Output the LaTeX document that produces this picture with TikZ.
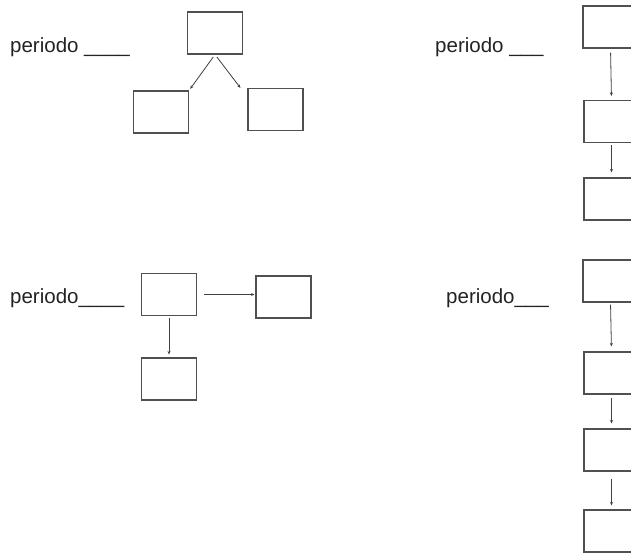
\documentclass[tikz,border=0pt]{standalone}
\usepackage{fontspec}
\setmainfont{Liberation Sans}
\usetikzlibrary{arrows.meta}
\definecolor{linegray}{RGB}{80,80,80}
\definecolor{textgray}{RGB}{35,35,35}

\begin{document}
\begin{tikzpicture}[x=1pt, y=-1pt,
        box/.style={draw=linegray, line width=1.1pt, minimum width=55pt, minimum height=42pt, inner sep=0pt},
        arr/.style={draw=linegray!80!black, line width=0.8pt, -{Stealth[length=3.5pt, width=3pt]}},
        lbl/.style={anchor=base west, inner sep=0pt, text=textgray, font=\fontsize{20.5}{20.5}\selectfont}]
        \useasboundingbox (0,0) rectangle (631,554);
        \clip (0,0) rectangle (631,554);
        % panel 1
        \node[lbl] (p1) at (10, 52) {periodo \_\_\_\_};
        \node[box] (a1) at (215, 33) {};
        \node[box] (b1) at (161, 112) {};
        \node[box] (c1) at (275.5, 109.5) {};
        \draw (a1.south) edge[arr, shorten <=3pt, shorten >=2pt] (b1.north east);
        \draw (a1.south) edge[arr, shorten <=3pt] ([xshift=-7pt]c1.north west);
        % panel 2
        \node[lbl] (p2) at (435, 52) {periodo \_\_\_};
        \node[box] (a2) at (610.5, 27) {};
        \node[box] (b2) at (611.5, 121.5) {};
        \node[box] (c2) at (611.5, 199) {};
        \draw (a2.south) edge[arr, shorten <=4pt, shorten >=4pt] (b2.north);
        \draw (b2.south) edge[arr, shorten <=2pt, shorten >=5pt] (c2.north);
        % panel 3
        \node[lbl] (p3) at (10, 303) {periodo\_\_\_\_};
        \node[box] (a3) at (169, 294.5) {};
        \node[box] (b3) at (283.5, 297) {};
        \node[box] (c3) at (169, 379) {};
        \draw (a3.east) edge[arr, shorten <=7pt, shorten >=1pt] (a3.east -| b3.west);
        \draw (a3.south) edge[arr, shorten <=2pt, shorten >=3pt] (c3.north);
        % panel 4
        \node[lbl] (p4) at (446, 303) {periodo\_\_\_};
        \node[box] (a4) at (610.5, 281) {};
        \node[box] (b4) at (611.5, 373) {};
        \node[box] (c4) at (611.5, 450) {};
        \node[box] (d4) at (611.5, 531) {};
        \draw (a4.south) edge[arr, shorten <=2pt, shorten >=5pt] (b4.north);
        \draw (b4.south) edge[arr, shorten <=3pt, shorten >=5pt] (c4.north);
        \draw (c4.south) edge[arr, shorten <=7pt, shorten >=4pt] (d4.north);
\end{tikzpicture}
\end{document}
